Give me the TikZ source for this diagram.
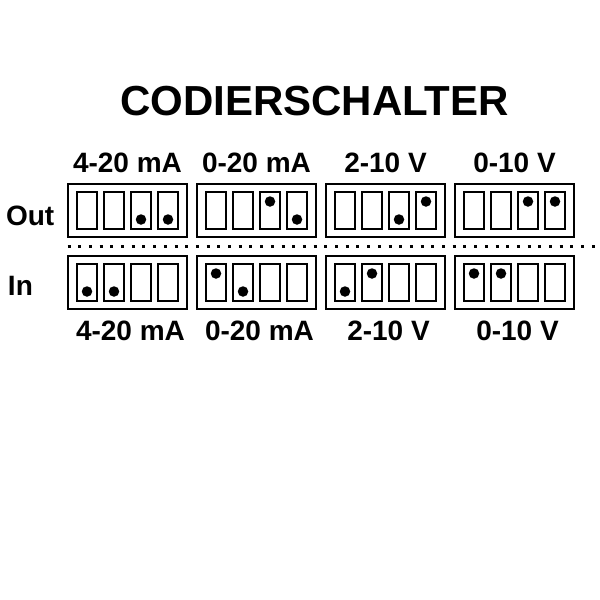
\documentclass[tikz,border=0pt]{standalone}
\usepackage{fontspec}
\setmainfont{Liberation Sans}
\usetikzlibrary{positioning, calc}
\tikzset{
  every picture/.style={line width=2pt, x=1pt, y=-1pt},
  title/.style={font=\fontsize{42}{50}\selectfont\bfseries, inner sep=0pt},
  lbl/.style={font=\fontsize{28}{34}\selectfont\bfseries, inner sep=0pt},
  dipbox/.style={draw, minimum width=119pt, minimum height=53pt, inner sep=0pt},
  slot/.style={draw, minimum width=20pt, minimum height=37pt, inner sep=0pt},
  knob/.style={circle, fill, inner sep=0pt, minimum size=10.5pt},
  sep/.style={line width=2.6pt, dash pattern=on 3pt off 7.7pt},
}

\begin{document}
\begin{tikzpicture}
  \path[fill=white, use as bounding box] (0,0) rectangle (600,600);
  % ---------- title and row names
  \node[title, anchor=base] (head) at (314.5,115) {CODIERSCHALTER};
  \node[lbl, anchor=base west] (outname) at (5,225) {Out};
  \node[lbl, anchor=base west] (inname) at (7,295) {In};
  % ---------- one column per range: out box, in box, labels
  \foreach \t/\x/\a/\b [count=\j] in {4-20 mA/127.5/9/9, 0-20 mA/256.5/-9/9, 2-10 V/385.5/9/-9, 0-10 V/514.5/-9/-9} {
    \node[lbl, anchor=base] (outlbl\j) at (\x,172) {\t};
    \node[dipbox] (out\j) at (\x,210.5) {};
    \node[dipbox] (in\j) at (\x,282.5) {};
    \foreach \k in {1,...,4} {
      \node[slot] (out\j-\k) at ($(out\j)+(27*\k-67.5,0)$) {};
      \node[slot] (in\j-\k) at ($(in\j)+(27*\k-67.5,0)$) {};
    }
    \node[knob] (outk\j-3) at ($(out\j-3)+(0,\a)$) {};
    \node[knob] (outk\j-4) at ($(out\j-4)+(0,\b)$) {};
    \node[knob] (ink\j-1) at ($(in\j-1)+(0,\a)$) {};
    \node[knob] (ink\j-2) at ($(in\j-2)+(0,\b)$) {};
    \node[lbl, anchor=base] (inlbl\j) at (\x+3,340) {\t};
  }
  % ---------- separator
  \coordinate (sepl) at (67.5,246.5);
  \coordinate (sepr) at (600,246.5);
  \draw[sep] (sepl) -- (sepr);
\end{tikzpicture}
\end{document}
